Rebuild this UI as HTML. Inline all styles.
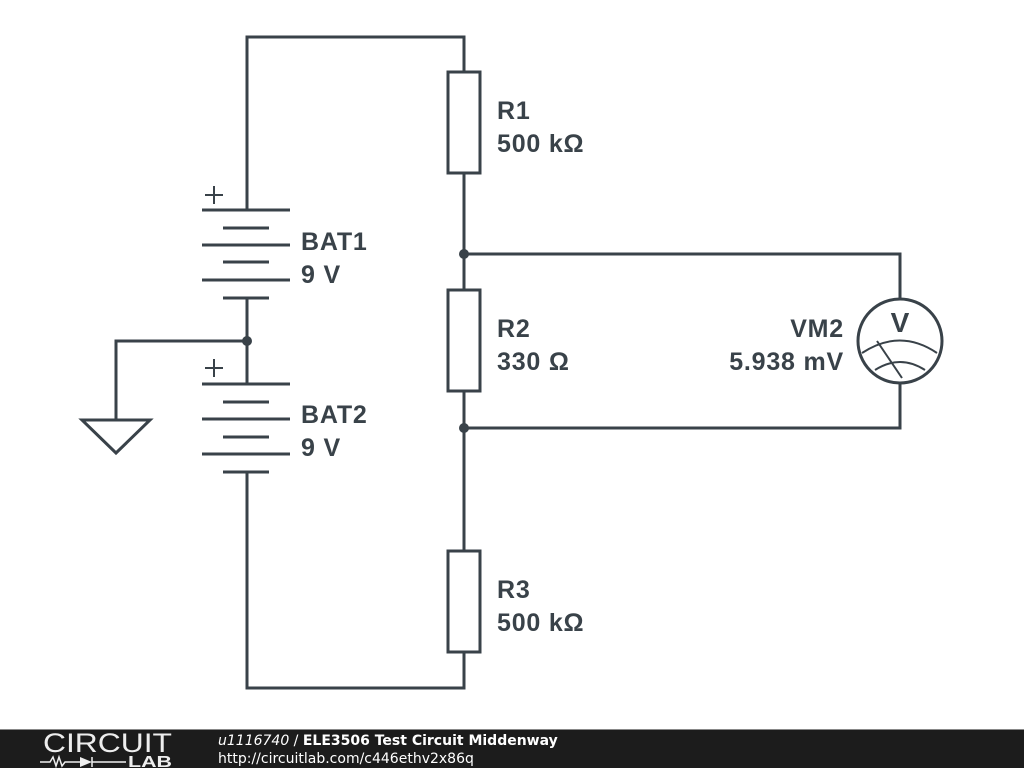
<!DOCTYPE html>
<html><head><meta charset="utf-8"><style>
body{margin:0;width:1024px;height:768px;background:#fff;overflow:hidden;font-family:"Liberation Sans",sans-serif}
svg{position:absolute;left:0;top:0}
</style></head><body>
<svg width="1024" height="768" viewBox="0 0 1024 768">
<g stroke="#394249" stroke-width="3" fill="none" stroke-linecap="butt">
<path d="M247 210V37H464V72M464 173V290M464 391V551M464 652V688H247V472M247 298V384M247 341H116V420"/>
<path d="M464 254H900V299M464 428H900V383"/>
<rect x="448" y="72" width="32" height="101"/>
<rect x="448" y="290" width="32" height="101"/>
<rect x="448" y="551" width="32" height="101"/>
<path d="M202 210H290M223 228H269M202 245H290M223 262H269M202 280H290M223 298H269"/>
<path d="M202 384H290M223 402H269M202 419H290M223 437H269M202 454H290M223 472H269"/>
<path d="M82 420H150L116 453Z" stroke-linejoin="miter"/>
<circle cx="900" cy="341" r="42"/>
</g>
<g stroke="#394249" stroke-width="2" fill="none">
<path d="M214 186V204M205 195H223M214 359V377M205 368H223"/>
<path d="M862 353Q900 328 937 353M875 370Q900 354 925 370M877 341L902 378"/>
</g>
<circle cx="464" cy="254" r="5" fill="#394249"/>
<circle cx="464" cy="428" r="5" fill="#394249"/>
<circle cx="247" cy="341" r="5" fill="#394249"/>
<g fill="#394249" font-family="Liberation Sans,sans-serif" font-weight="bold" font-size="25" letter-spacing="0.8">
<text x="497" y="119">R1</text><text x="497" y="152">500 kΩ</text>
<text x="497" y="337">R2</text><text x="497" y="370">330 Ω</text>
<text x="497" y="598">R3</text><text x="497" y="631">500 kΩ</text>
<text x="301" y="250">BAT1</text><text x="301" y="283">9 V</text>
<text x="301" y="423">BAT2</text><text x="301" y="456">9 V</text>
<text x="844" y="337" text-anchor="end">VM2</text><text x="844" y="370" text-anchor="end">5.938 mV</text>
<text x="900" y="332" text-anchor="middle" font-size="28" letter-spacing="0">V</text>
</g>
<rect x="0" y="729" width="1024" height="39" fill="#1c1c1c"/>
<rect x="0" y="729" width="1024" height="1" fill="#888"/>
<text x="43" y="752" fill="#eee" font-size="27" font-family="Liberation Sans,sans-serif" textLength="129" lengthAdjust="spacingAndGlyphs">CIRCUIT</text>
<path d="M40 762H50L53 757L56 766L59 757L62 766L65 762H80" stroke="#eee" stroke-width="1.5" fill="none"/>
<path d="M80 757V767L92 762Z" fill="#eee"/><path d="M92 757V767M92 762H126" stroke="#eee" stroke-width="1.5"/>
<text x="128" y="767" fill="#eee" font-size="16" font-weight="bold" font-family="Liberation Sans,sans-serif" textLength="44" lengthAdjust="spacingAndGlyphs">LAB</text>
<text x="218" y="745" fill="#fff" font-size="14" font-family="DejaVu Sans,sans-serif"><tspan font-style="italic">u1116740</tspan> / <tspan font-weight="bold">ELE3506 Test Circuit Middenway</tspan></text>
<text x="218" y="763" fill="#fff" font-size="14" font-family="DejaVu Sans,sans-serif">http://circuitlab.com/c446ethv2x86q</text>
</svg>
</body></html>
